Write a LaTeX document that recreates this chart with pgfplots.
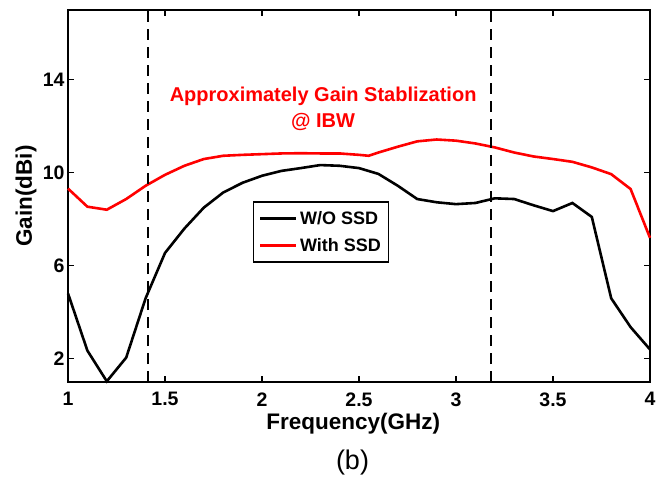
\documentclass[border=0pt]{standalone}
\usepackage{pgfplots}
\pgfplotsset{compat=1.18}
\usepackage{fontspec}
\setmainfont{Liberation Sans}
\definecolor{myred}{RGB}{255,0,0}
\begin{document}
\begin{tikzpicture}[x=1pt,y=1pt]
\useasboundingbox (0,0) rectangle (668,480);
\begin{axis}[
  at={(68pt,98pt)}, anchor=south west,
  width=582pt, height=372pt, scale only axis,
  xmin=1, xmax=4, ymin=1, ymax=17,
  xtick={1,1.5,2,2.5,3,3.5,4}, ytick={2,6,10,14},
  tick align=inside, major tick length=6pt,
  tick style={line width=1.3pt, black},
  axis line style={line width=1.6pt},
  /pgf/number format/assume math mode=true,
  ticklabel style={font=\bfseries\fontsize{19.5}{22}\selectfont},
  xticklabel style={yshift=-7pt},
  xlabel={Frequency(GHz)}, ylabel={Gain(dBi)},
  label style={font=\bfseries\fontsize{22.5}{26}\selectfont},
  xlabel style={at={(axis description cs:0.49,-0.113)}, anchor=center, inner sep=0pt},
  ylabel style={at={(axis description cs:-0.072,0.5)}, anchor=center, rotate=0},
  legend style={at={(0.318,0.4855)}, anchor=north west, draw=black, line width=1.3pt,
    font=\bfseries\fontsize{18}{22}\selectfont, row sep=7pt, inner xsep=5pt, inner ysep=7pt,
    nodes={inner sep=2.5pt}},
  legend cell align=left,
  legend image code/.code={\draw[#1, line width=2.8pt] (0pt,0pt) -- (36pt,0pt);},
  clip=false,
]
\addplot[black, line width=2.6pt] coordinates {
(1.0,4.81) (1.1,2.35) (1.2,1.03) (1.3,2.05) (1.4,4.6) (1.5,6.55) (1.6,7.6) (1.7,8.5)
(1.8,9.15) (1.9,9.57) (2.0,9.87) (2.1,10.08) (2.2,10.2) (2.3,10.33) (2.4,10.3)
(2.5,10.2) (2.6,9.95) (2.7,9.44) (2.8,8.87) (2.9,8.73) (3.0,8.65) (3.1,8.7)
(3.2,8.9) (3.3,8.87) (3.4,8.6) (3.5,8.35) (3.6,8.7) (3.7,8.1) (3.8,4.6) (3.9,3.36) (4.0,2.4)
};
\addlegendentry{W/O SSD}
\addplot[myred, line width=2.6pt] coordinates {
(1.0,9.32) (1.1,8.54) (1.2,8.41) (1.3,8.87) (1.4,9.44) (1.5,9.91) (1.6,10.3) (1.7,10.59)
(1.8,10.73) (1.9,10.77) (2.0,10.8) (2.1,10.83) (2.2,10.84) (2.3,10.83) (2.4,10.83)
(2.5,10.77) (2.55,10.73) (2.6,10.87) (2.7,11.12) (2.8,11.35) (2.9,11.43) (3.0,11.38) (3.1,11.26)
(3.2,11.09) (3.3,10.87) (3.4,10.7) (3.5,10.59) (3.6,10.47) (3.7,10.23) (3.8,9.94) (3.9,9.3) (4.0,7.2)
};
\addlegendentry{With SSD}
\addplot[black, line width=1.8pt, dash pattern=on 11pt off 7pt, forget plot] coordinates {(1.412,1) (1.412,17)};
\addplot[black, line width=1.8pt, dash pattern=on 11pt off 7pt, forget plot] coordinates {(3.18,1) (3.18,17)};
\node[myred, align=center, font=\bfseries\fontsize{20}{26}\selectfont] at (axis cs:2.315,12.77)
  {Approximately Gain Stablization\\@ IBW};
\end{axis}
\node[font=\fontsize{27}{30}\selectfont] at (352.5,17) {(b)};
\end{tikzpicture}
\end{document}
